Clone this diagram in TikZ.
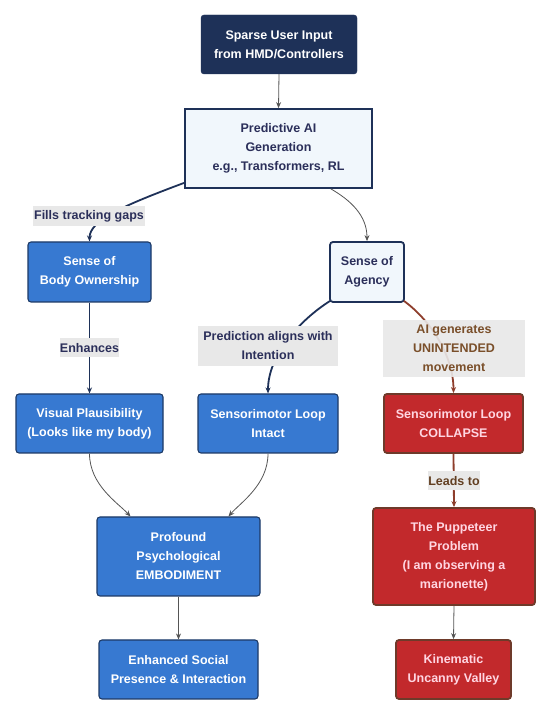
\documentclass[tikz,border=0pt]{standalone}
\usepackage{fontspec}
\setmainfont{Liberation Sans}
\usetikzlibrary{arrows.meta}
\definecolor{navy}{HTML}{1E3158}
\definecolor{navytext}{HTML}{2B2F5A}
\definecolor{lightfill}{HTML}{F1F7FC}
\definecolor{bluefill}{HTML}{3779D1}
\definecolor{blueedge}{HTML}{1D3A66}
\definecolor{redfill}{HTML}{C2292C}
\definecolor{rededge}{HTML}{6E3A2A}
\definecolor{pinktext}{HTML}{FFD6E2}
\definecolor{labelbg}{HTML}{E8E8E8}
\definecolor{browntext}{HTML}{7A4F2A}
\definecolor{brownedge}{HTML}{8E3E2C}
\definecolor{grayedge}{HTML}{555555}
\tikzset{
  base/.style={rounded corners=3pt, align=center, inner sep=0pt,
    font=\bfseries\fontsize{12.5}{19}\selectfont},
  darkbox/.style={base, fill=navy, draw=navy, text=white},
  lightbox/.style={base, fill=lightfill, draw=navy, line width=1.8pt, text=navytext},
  bluebox/.style={base, fill=bluefill, draw=blueedge, line width=1.1pt, text=white},
  redbox/.style={base, fill=redfill, draw=rededge, line width=1.8pt, text=pinktext},
  lbl/.style={fill=labelbg, align=center, inner sep=0pt, text=navytext,
    font=\bfseries\fontsize{12.5}{19}\selectfont},
  grayarrow/.style={draw=grayedge, line width=0.8pt, -{Stealth[length=6pt,width=5pt]}},
  navyarrow/.style={draw=navy, line width=1.8pt, -{Stealth[length=6pt,width=5pt]}},
  brownarrow/.style={draw=brownedge, line width=1.8pt, -{Stealth[length=6pt,width=5pt]}},
}
\begin{document}
\begin{tikzpicture}[x=1pt,y=1pt]
\useasboundingbox (0,0) rectangle (550,715);
\fill[white] (0,0) rectangle (550,715);

\node[darkbox, minimum width=156pt, minimum height=59pt] (sparse) at (279,670.5) {Sparse User Input\\from HMD/Controllers};
\node[lightbox, rounded corners=0pt, minimum width=187pt, minimum height=79pt] (pred) at (278.5,566.5) {Predictive AI\\Generation\\e.g., Transformers, RL};
\node[bluebox, minimum width=123pt, minimum height=60pt] (bo) at (89.5,443) {Sense of\\Body Ownership};
\node[lightbox, minimum width=74pt, minimum height=60pt] (ag) at (367,443) {Sense of\\Agency};
\node[bluebox, minimum width=147pt, minimum height=59pt] (vp) at (89.5,291.5) {Visual Plausibility\\(Looks like my body)};
\node[bluebox, minimum width=140pt, minimum height=59pt] (smi) at (268,291.5) {Sensorimotor Loop\\Intact};
\node[redbox, minimum width=139pt, minimum height=59pt] (smc) at (453.5,291.5) {Sensorimotor Loop\\COLLAPSE};
\node[bluebox, minimum width=163pt, minimum height=79pt] (emb) at (178.5,158.5) {Profound\\Psychological\\EMBODIMENT};
\node[redbox, minimum width=162pt, minimum height=97pt] (pup) at (454,158.5) {The Puppeteer\\Problem\\(I am observing a\\marionette)};
\node[bluebox, minimum width=159pt, minimum height=59pt] (soc) at (178.5,45.5) {Enhanced Social\\Presence \& Interaction};
\node[redbox, minimum width=115pt, minimum height=59pt] (kin) at (453.5,45.5) {Kinematic\\Uncanny Valley};

% connectors
\draw[grayarrow] (sparse.south) -- (pred.north);
\draw[navyarrow] ([yshift=6pt]pred.south west) .. controls (125,510) and (89.5,495) .. (bo.north);
\draw[grayarrow] ([xshift=-42pt]pred.south east) .. controls (350,515) and (367,500) .. (ag.north);
\draw[navyarrow] (bo.south) -- (vp.north);
\draw[navyarrow] ([xshift=1pt,yshift=2pt]ag.south west) .. controls (300,395) and (268,360) .. (smi.north);
\draw[brownarrow] ([xshift=-1pt,yshift=2pt]ag.south east) .. controls (430,395) and (453.5,360) .. (smc.north);
\draw[grayarrow] (vp.south) .. controls (89.5,230) and (118,212) .. ([xshift=-48pt]emb.north);
\draw[grayarrow] (smi.south) .. controls (268,230) and (240,212) .. ([xshift=50pt]emb.north);
\draw[grayarrow] (emb.south) -- (soc.north);
\draw[brownarrow] (smc.south) -- (pup.north);
\draw[grayarrow] (pup.south) -- (kin.north);

% labels
\node[lbl, minimum width=112pt, minimum height=20pt] (l1) at (89,499) {Fills tracking gaps};
\node[lbl, minimum width=59pt, minimum height=19pt] (l2) at (89.5,367) {Enhances};
\node[lbl, minimum width=140pt, minimum height=40pt] (l3) at (268,369) {Prediction aligns with\\Intention};
\node[lbl, fill opacity=0.9, text opacity=1, text=browntext, minimum width=142pt, minimum height=57pt] (l4) at (454,366.5) {AI generates\\UNINTENDED\\movement};
\node[lbl, text=browntext!80!black, minimum width=52pt, minimum height=19pt] (l5) at (454,234) {Leads to};
\end{tikzpicture}
\end{document}
